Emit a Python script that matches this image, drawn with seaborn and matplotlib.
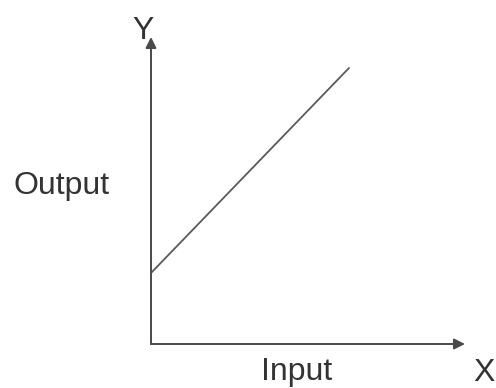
import matplotlib
matplotlib.use("Agg")
import matplotlib.pyplot as plt
import seaborn as sns

# straight-line response: output rises linearly with input, with an offset
input_vals = [0.0, 9.9]
output_vals = [3.55, 13.8]

x_label = "Input"
y_label = "Output"
x_axis_name = "X"
y_axis_name = "Y"

sns.set_theme(style="white")
plt.rcParams['font.family'] = ['Liberation Sans', 'DejaVu Sans']

fig = plt.figure(figsize=(4.96, 3.88), dpi=100)
W, H = 496, 388
# axes origin at pixel (151, 344), x tip at 465, y tip at 37
ax = fig.add_axes([151 / W, (H - 344) / H, (465 - 151) / W, (344 - 37) / H])

sns.lineplot(x=input_vals, y=output_vals, ax=ax, color='#5a5a5a', linewidth=1.3)
ax.set_xlim(0, 15.7)
ax.set_ylim(0, 15.35)

for s in ax.spines.values():
    s.set_visible(False)
ax.set_xticks([])
ax.set_yticks([])
ax.set_xlabel('')
ax.set_ylabel('')

arrow = dict(arrowstyle='-|>', color='#4a4a4a', lw=1.4, mutation_scale=16,
             shrinkA=0, shrinkB=0)
ax.annotate('', xy=(1, 0), xytext=(0, 0), xycoords='axes fraction', arrowprops=arrow)
ax.annotate('', xy=(0, 1), xytext=(0, 0), xycoords='axes fraction', arrowprops=arrow)

txt = dict(color='#333333', fontsize=23)
fig.text(62 / W, 1 - 186 / H, y_label, ha='center', va='center', **txt)
fig.text(297 / W, 1 - 372 / H, x_label, ha='center', va='center', **txt)
fig.text(484 / W, 1 - 373 / H, x_axis_name, ha='center', va='center', **txt)
fig.text(143 / W, 1 - 31 / H, y_axis_name, ha='center', va='center', **txt)

fig.savefig('out.png', dpi=100)
